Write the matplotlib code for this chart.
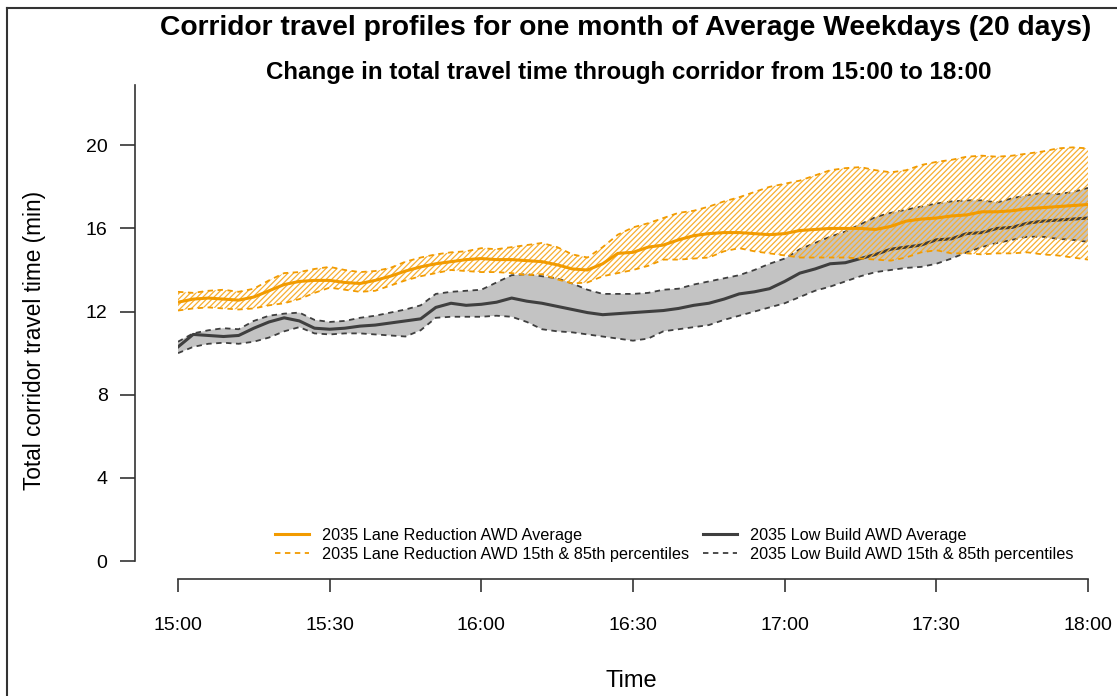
import numpy as np
import matplotlib.pyplot as plt
from matplotlib.lines import Line2D

plt.rcParams['font.family'] = ['Liberation Sans', 'DejaVu Sans']
plt.rcParams['hatch.linewidth'] = 0.9

# minutes after 15:00, every 3 minutes
minutes = list(range(0, 181, 3))

lr_avg = [12.45, 12.6, 12.65, 12.6, 12.55, 12.7, 13.0, 13.3, 13.45, 13.5,
          13.5, 13.4, 13.35, 13.5, 13.7, 13.95, 14.15, 14.3, 14.4, 14.5,
          14.55, 14.5, 14.5, 14.45, 14.4, 14.25, 14.05, 14.0, 14.3, 14.8,
          14.85, 15.1, 15.2, 15.45, 15.65, 15.75, 15.8, 15.8, 15.75, 15.7,
          15.75, 15.9, 15.95, 16.0, 16.0, 16.0, 15.95, 16.1, 16.35, 16.45,
          16.5, 16.6, 16.65, 16.8, 16.8, 16.85, 16.95, 17.0, 17.05, 17.1, 17.15]
lr_hi = [12.95, 12.9, 13.0, 13.05, 12.95, 13.1, 13.5, 13.85, 13.9, 14.05,
         14.15, 14.0, 13.9, 13.95, 14.1, 14.4, 14.6, 14.75, 14.85, 14.9,
         15.05, 15.0, 15.1, 15.2, 15.3, 15.1, 14.75, 14.6, 15.1, 15.7,
         16.05, 16.25, 16.5, 16.75, 16.85, 17.05, 17.3, 17.5, 17.75, 18.0,
         18.15, 18.3, 18.55, 18.8, 18.9, 18.95, 18.8, 18.7, 18.8, 19.05,
         19.2, 19.3, 19.45, 19.5, 19.45, 19.5, 19.6, 19.7, 19.85, 19.9, 19.85]
lr_lo = [12.05, 12.15, 12.2, 12.15, 12.1, 12.15, 12.3, 12.4, 12.6, 12.9,
         13.15, 13.05, 12.95, 13.0, 13.25, 13.5, 13.7, 13.85, 14.0, 13.95,
         13.9, 13.9, 13.85, 13.75, 13.8, 13.55, 13.35, 13.4, 13.7, 13.85,
         14.0, 14.2, 14.5, 14.5, 14.55, 14.6, 14.9, 15.05, 14.9, 14.8,
         14.7, 14.6, 14.6, 14.6, 14.6, 14.55, 14.5, 14.45, 14.6, 14.85,
         14.95, 14.8, 14.8, 14.75, 14.8, 14.8, 14.85, 14.75, 14.7, 14.6, 14.5]

lb_avg = [10.3, 10.9, 10.85, 10.8, 10.85, 11.2, 11.5, 11.7, 11.55, 11.2,
          11.15, 11.2, 11.3, 11.35, 11.45, 11.55, 11.65, 12.2, 12.4, 12.3,
          12.35, 12.45, 12.65, 12.5, 12.4, 12.25, 12.1, 11.95, 11.85, 11.9,
          11.95, 12.0, 12.05, 12.15, 12.3, 12.4, 12.6, 12.85, 12.95, 13.1,
          13.45, 13.85, 14.05, 14.3, 14.35, 14.55, 14.75, 15.0, 15.1, 15.2,
          15.45, 15.5, 15.75, 15.8, 16.0, 16.05, 16.25, 16.35, 16.4, 16.45, 16.5]
lb_hi = [10.55, 10.95, 11.1, 11.2, 11.15, 11.55, 11.8, 11.9, 11.95, 11.6,
         11.5, 11.55, 11.7, 11.8, 11.95, 12.1, 12.3, 12.85, 12.95, 13.0,
         13.05, 13.4, 13.75, 13.8, 13.7, 13.6, 13.35, 13.05, 12.85, 12.85,
         12.85, 12.9, 13.05, 13.1, 13.3, 13.45, 13.6, 13.75, 14.0, 14.3,
         14.55, 15.0, 15.3, 15.6, 15.85, 16.2, 16.55, 16.75, 16.9, 17.05,
         17.2, 17.3, 17.35, 17.35, 17.25, 17.45, 17.6, 17.7, 17.65, 17.75, 17.95]
lb_lo = [10.0, 10.3, 10.45, 10.5, 10.45, 10.55, 10.75, 11.05, 11.25, 10.95,
         10.9, 10.95, 10.95, 10.9, 10.85, 10.8, 11.1, 11.7, 11.75, 11.75,
         11.75, 11.8, 11.75, 11.5, 11.15, 11.05, 11.0, 10.9, 10.8, 10.7,
         10.6, 10.7, 11.05, 11.15, 11.25, 11.35, 11.6, 11.8, 12.0, 12.2,
         12.4, 12.7, 13.0, 13.2, 13.45, 13.7, 13.9, 14.0, 14.1, 14.15,
         14.3, 14.55, 14.85, 15.1, 15.3, 15.45, 15.6, 15.6, 15.5, 15.45, 15.35]

tick_minutes = [0, 30, 60, 90, 120, 150, 180]
tick_labels = ['15:00', '15:30', '16:00', '16:30', '17:00', '17:30', '18:00']
y_ticks = [0, 4, 8, 12, 16, 20]

orange = '#F29B00'
hatch_orange = '#F7AE30'
dark = '#3F3F3F'
band_gray = '#C3C3C3'

W, H = 1117, 696
fig = plt.figure(figsize=(W / 100, H / 100), dpi=100)
ax = fig.add_axes([178 / W, (H - 561) / H, 910 / W, 476 / H])

# low build band (grey, solid fill)
ax.fill_between(minutes, lb_lo, lb_hi, facecolor=band_gray, edgecolor='none', zorder=1)
ax.plot(minutes, lb_hi, color=dark, lw=1.3, dashes=(3, 2.5), zorder=2)
ax.plot(minutes, lb_lo, color=dark, lw=1.3, dashes=(3, 2.5), zorder=2)
ax.plot(minutes, lb_avg, color=dark, lw=2.2, zorder=3)

# lane reduction band (hatched)
ax.fill_between(minutes, lr_lo, lr_hi, facecolor='none', edgecolor=hatch_orange,
                hatch='//////', linewidth=0, zorder=4)
ax.plot(minutes, lr_hi, color=orange, lw=1.3, dashes=(3, 2.5), zorder=5)
ax.plot(minutes, lr_lo, color=orange, lw=1.3, dashes=(3, 2.5), zorder=5)
ax.plot(minutes, lr_avg, color=orange, lw=2.2, zorder=6)

ax.set_xlim(0, 180)
ax.set_ylim(0, 22.9)
for s in ['top', 'right']:
    ax.spines[s].set_visible(False)
ax.spines['left'].set_position(('outward', 43 * 0.72))
ax.spines['bottom'].set_position(('outward', 18 * 0.72))
ax.spines['left'].set_bounds(0, 22.9)
ax.spines['bottom'].set_bounds(0, 180)
for s in ['left', 'bottom']:
    ax.spines[s].set_color('#333333')
    ax.spines[s].set_linewidth(1.2)

ax.set_xticks(tick_minutes)
ax.set_xticklabels(tick_labels)
ax.set_yticks(y_ticks)
ax.tick_params(axis='y', length=10.8, width=1.2, color='#333333', pad=9, labelsize=14)
ax.tick_params(axis='x', length=9.4, width=1.2, color='#333333', pad=18, labelsize=14)

fig.text(35 / W, 1 - 340 / H, 'Total corridor travel time (min)', rotation=90,
         ha='center', va='center', fontsize=16.3)
fig.text(631 / W, 1 - 681 / H, 'Time', ha='center', va='center', fontsize=17)
fig.text(626 / W, 1 - 28 / H,
         'Corridor travel profiles for one month of Average Weekdays (20 days)',
         ha='center', va='center', fontsize=20.3, fontweight='bold')
fig.text(629 / W, 1 - 72 / H,
         'Change in total travel time through corridor from 15:00 to 18:00',
         ha='center', va='center', fontsize=17.4, fontweight='bold')

handles = [
    Line2D([], [], color=orange, lw=2.2),
    Line2D([], [], color=orange, lw=1.3, dashes=(3, 2.5)),
    Line2D([], [], color=dark, lw=2.2),
    Line2D([], [], color=dark, lw=1.3, dashes=(3, 2.5)),
]
labels = ['2035 Lane Reduction AWD Average',
          '2035 Lane Reduction AWD 15th & 85th percentiles',
          '2035 Low Build AWD Average',
          '2035 Low Build AWD 15th & 85th percentiles']
fig.legend(handles, labels, ncol=2, frameon=False, fontsize=11.7,
           loc='upper left', bbox_to_anchor=(275 / W, 1 - 528 / H),
           borderpad=0, borderaxespad=0, handlelength=2.1, handletextpad=0.8,
           columnspacing=0.85, labelspacing=0.25)

# page border of the screenshot
fig.add_artist(Line2D([7 / W, 1], [1 - 8 / H, 1 - 8 / H], color='#333333', lw=1.5))
fig.add_artist(Line2D([7 / W, 7 / W], [0, 1 - 8 / H], color='#333333', lw=1.5))

fig.savefig('out.png', dpi=100)
